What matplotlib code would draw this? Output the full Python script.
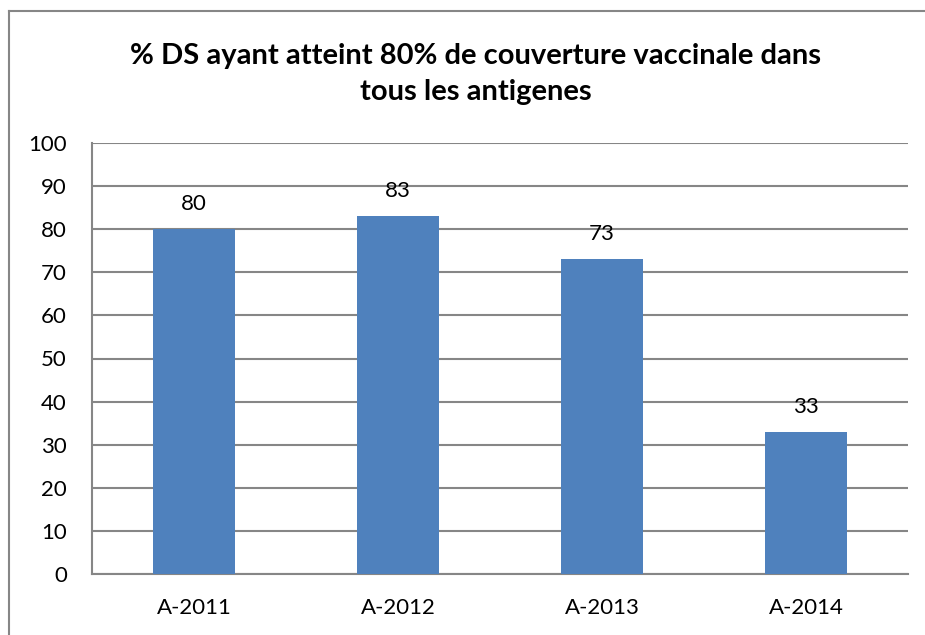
import matplotlib.pyplot as plt
from matplotlib.lines import Line2D

categories = ["A-2011", "A-2012", "A-2013", "A-2014"]
values = [80, 83, 73, 33]
yticks = [0, 10, 20, 30, 40, 50, 60, 70, 80, 90, 100]
title = "% DS ayant atteint 80% de couverture vaccinale dans\ntous les antigenes"

plt.rcParams['font.family'] = ['Lato', 'DejaVu Sans']

fig = plt.figure(figsize=(9.25, 6.35), dpi=100)
ax = fig.add_axes([92 / 925, 61 / 635, 816 / 925, 431 / 635])

# outer chart frame: only top and left edges fall inside the picture
fx, fy = 9 / 925, 1 - 11 / 635
fig.lines.append(Line2D([fx, 1], [fy, fy], transform=fig.transFigure,
                        color='#868686', linewidth=1.5))
fig.lines.append(Line2D([fx, fx], [0, fy], transform=fig.transFigure,
                        color='#868686', linewidth=1.5))

x = range(len(categories))
bars = ax.bar(x, values, width=0.4, color='#4F81BD', zorder=3)
for xi, v in zip(x, values):
    ax.text(xi, v + 3.5, str(v), ha='center', va='bottom', fontsize=16)

ax.set_xlim(-0.5, len(categories) - 0.5)
ax.set_ylim(0, 100)
ax.set_yticks(yticks)
ax.set_xticks(list(x))
ax.set_xticklabels(categories)
ax.tick_params(axis='both', labelsize=16, length=0)
ax.tick_params(axis='x', pad=17)
ax.tick_params(axis='y', pad=18)
ax.yaxis.grid(True, color='#868686', linewidth=1.5, zorder=0)
for s in ['top', 'right']:
    ax.spines[s].set_visible(False)
for s in ['left', 'bottom']:
    ax.spines[s].set_color('#868686')
    ax.spines[s].set_linewidth(1.5)

fig.text(0.514, 1 - 74 / 635, title, ha='center', va='center',
         fontsize=21, fontweight='bold', linespacing=1.45)

plt.savefig("out.png", dpi=100)
